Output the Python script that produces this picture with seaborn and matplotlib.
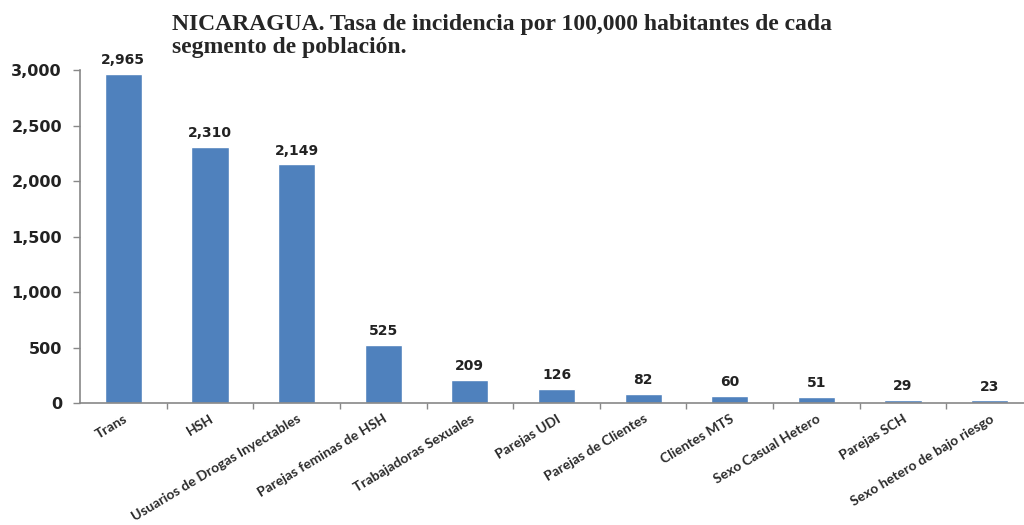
import matplotlib
matplotlib.use("Agg")
import matplotlib.pyplot as plt
import seaborn as sns
import pandas as pd

categories = ["Trans", "HSH", "Usuarios de Drogas Inyectables", "Parejas feminas de HSH",
              "Trabajadoras Sexuales", "Parejas UDI", "Parejas de Clientes", "Clientes MTS",
              "Sexo Casual Hetero", "Parejas SCH", "Sexo hetero de bajo riesgo"]
values = [2965, 2310, 2149, 525, 209, 126, 82, 60, 51, 29, 23]
yticks = [0, 500, 1000, 1500, 2000, 2500, 3000]
title = "NICARAGUA. Tasa de incidencia por 100,000 habitantes de cada\nsegmento de población."

sns.set_theme(style="white")
plt.rcParams['font.family'] = ['Lato', 'DejaVu Sans']

df = pd.DataFrame({"cat": categories, "val": values})
fig = plt.figure(figsize=(10.24, 5.25), dpi=100)
ax = fig.add_axes([80/1024, 1-403/525, (1033-80)/1024, (403-70)/525])
sns.barplot(data=df, x="cat", y="val", color="#4F81BD", saturation=1, width=0.43, ax=ax)
ax.set_xlim(-0.5, len(categories)-0.5)
ax.set_ylim(0, 3000)
ax.set_yticks(yticks)
ax.set_yticklabels([f"{v:,}" for v in yticks], fontsize=11.5, fontweight="bold",
                   color="#222222", family=["DejaVu Sans"])
ax.set_xticks(range(len(categories)))
ax.set_xticklabels(categories, rotation=31, ha="right", rotation_mode="anchor",
                   fontsize=10, fontweight="bold", color="#2a2a2a")
ax.tick_params(axis="x", length=0, pad=7)
ax.tick_params(axis="y", length=5, width=1, color="#888888", direction="out", pad=8, left=True)
# category boundary ticks
ax.set_xticks([i + 0.5 for i in range(len(categories))], minor=True)
ax.tick_params(axis="x", which="minor", length=4, width=1, color="#888888", direction="out", bottom=True)
ax.set_xlabel("")
ax.set_ylabel("")
for s in ["top", "right"]:
    ax.spines[s].set_visible(False)
for s in ["left", "bottom"]:
    ax.spines[s].set_color("#888888")
    ax.spines[s].set_linewidth(1.2)
for i, v in enumerate(values):
    ax.annotate(f"{v:,}", (i, v), xytext=(0, 5), textcoords="offset points",
                ha="center", va="bottom", fontsize=10, fontweight="bold",
                color="#222222", family=["DejaVu Sans"])
fig.text(172/1024, 1-14/525, title, ha="left", va="top", fontsize=17, fontweight="bold",
         family=["Liberation Serif"], linespacing=1.12)
fig.savefig("out.png", dpi=100)
